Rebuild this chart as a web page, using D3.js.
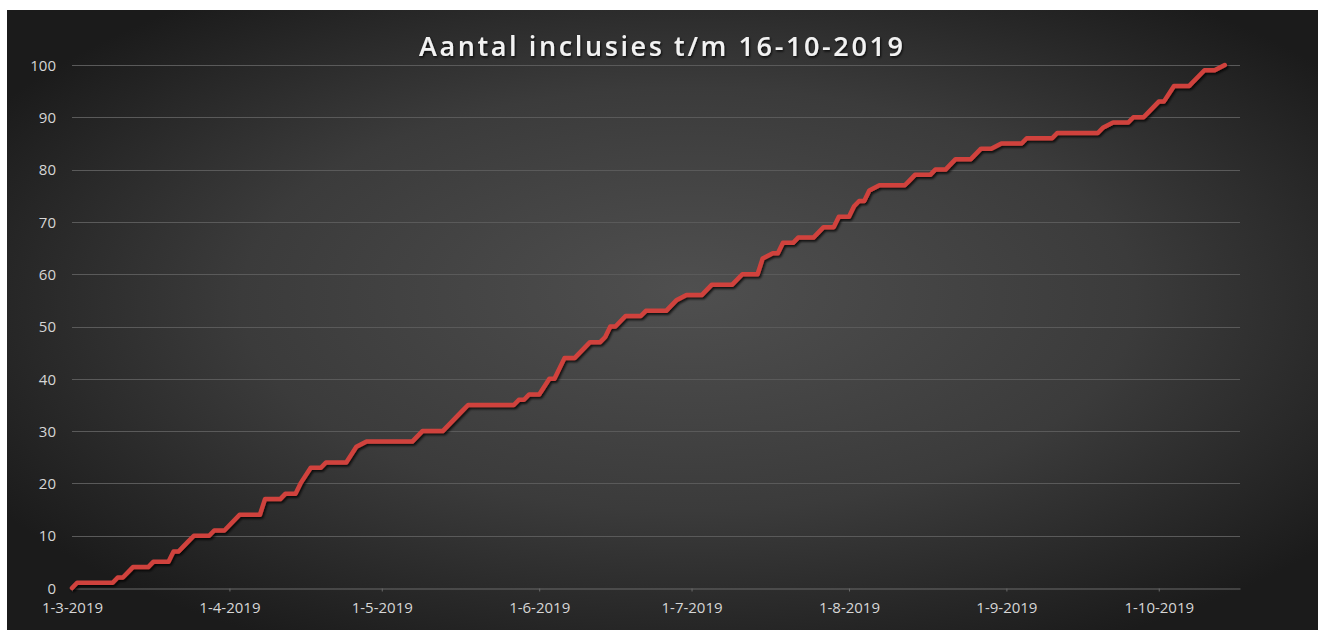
<!DOCTYPE html>
<html>
<head>
<meta charset="utf-8">
<script src="https://cdn.jsdelivr.net/npm/d3@7"></script>
<style>
  html, body { margin: 0; padding: 0; background: #ffffff; }
  svg { display: block; }
</style>
</head>
<body>
<svg id="chart" width="1318" height="630"></svg>
<script>
// ---- data (vertices of the cumulative line) ----
const dates = [
  "2019-03-01","2019-03-02","2019-03-09","2019-03-10","2019-03-11","2019-03-13","2019-03-16","2019-03-17",
  "2019-03-20","2019-03-21","2019-03-22","2019-03-24","2019-03-25","2019-03-28","2019-03-29","2019-03-31",
  "2019-04-01","2019-04-03","2019-04-07","2019-04-08","2019-04-11","2019-04-12","2019-04-14","2019-04-15",
  "2019-04-17","2019-04-19","2019-04-20","2019-04-24","2019-04-26","2019-04-28","2019-05-07","2019-05-09",
  "2019-05-13","2019-05-16","2019-05-17","2019-05-18","2019-05-27","2019-05-28","2019-05-29","2019-05-30",
  "2019-06-01","2019-06-03","2019-06-04","2019-06-06","2019-06-08","2019-06-10","2019-06-11","2019-06-13",
  "2019-06-14","2019-06-15","2019-06-16","2019-06-18","2019-06-21","2019-06-22","2019-06-26","2019-06-28",
  "2019-06-30","2019-07-03","2019-07-05","2019-07-09","2019-07-11","2019-07-14","2019-07-15","2019-07-17",
  "2019-07-18","2019-07-19","2019-07-21","2019-07-22","2019-07-25","2019-07-27","2019-07-29","2019-07-30",
  "2019-08-01","2019-08-02","2019-08-03","2019-08-04","2019-08-05","2019-08-07","2019-08-12","2019-08-13",
  "2019-08-14","2019-08-17","2019-08-18","2019-08-20","2019-08-21","2019-08-22","2019-08-25","2019-08-27",
  "2019-08-29","2019-08-31","2019-09-04","2019-09-05","2019-09-10","2019-09-11","2019-09-19","2019-09-20",
  "2019-09-22","2019-09-25","2019-09-26","2019-09-28","2019-09-29","2019-10-01","2019-10-02","2019-10-04",
  "2019-10-07","2019-10-10","2019-10-12","2019-10-14"
];
const inclusies = [
  0,1,1,2,2,4,4,5,
  5,7,7,9,10,10,11,11,
  12,14,14,17,17,18,18,20,
  23,23,24,24,27,28,28,30,
  30,33,34,35,35,36,36,37,
  37,40,40,44,44,46,47,47,
  48,50,50,52,52,53,53,55,
  56,56,58,58,60,60,63,64,
  64,66,66,67,67,69,69,71,
  71,73,74,74,76,77,77,78,
  79,79,80,80,81,82,82,84,
  84,85,85,86,86,87,87,88,
  89,89,90,90,91,93,93,96,
  96,99,99,100
];
const xTickDates = ["2019-03-01","2019-04-01","2019-05-01","2019-06-01","2019-07-01","2019-08-01","2019-09-01","2019-10-01"];
const yTicks = [0,10,20,30,40,50,60,70,80,90,100];
const xDomain = ["2019-03-01","2019-10-17"];
const title = "Aantal inclusies t/m 16-10-2019";

// ---- drawing ----
const parse = d3.timeParse("%Y-%m-%d");
const fmt = d3.timeFormat("%-d-%-m-%Y");
const svg = d3.select("#chart");
const W = 1318, H = 630;

const defs = svg.append("defs");
const rg = defs.append("radialGradient").attr("id", "bg")
  .attr("cx", "52%").attr("cy", "48%").attr("r", "62%")
  .attr("fx", "52%").attr("fy", "45%");
rg.append("stop").attr("offset", "0%").attr("stop-color", "#4f4f4f");
rg.append("stop").attr("offset", "55%").attr("stop-color", "#3b3b3b");
rg.append("stop").attr("offset", "100%").attr("stop-color", "#1b1b1b");

const sh = defs.append("filter").attr("id", "shadow")
  .attr("x", "-5%").attr("y", "-5%").attr("width", "110%").attr("height", "110%");
sh.append("feDropShadow").attr("dx", 1.5).attr("dy", 2).attr("stdDeviation", 1.2)
  .attr("flood-color", "#000").attr("flood-opacity", 0.75);

const tsh = defs.append("filter").attr("id", "tshadow");
tsh.append("feDropShadow").attr("dx", 1).attr("dy", 1.5).attr("stdDeviation", 1)
  .attr("flood-color", "#000").attr("flood-opacity", 0.8);

svg.append("rect").attr("x", 7).attr("y", 10).attr("width", W - 7).attr("height", H - 10)
  .attr("fill", "url(#bg)");

const x = d3.scaleTime().domain(xDomain.map(parse)).range([72, 1240]);
const y = d3.scaleLinear().domain([0, 100]).range([588, 65]);

// gridlines
svg.append("g").selectAll("line").data(yTicks.filter(d => d > 0)).join("line")
  .attr("x1", x.range()[0]).attr("x2", x.range()[1])
  .attr("y1", d => Math.round(y(d)) + 0.5).attr("y2", d => Math.round(y(d)) + 0.5)
  .attr("stroke", "#5a5a5a").attr("stroke-width", 1);

// y axis labels
const yAxis = d3.axisLeft(y).tickValues(yTicks).tickSize(0).tickPadding(0);
const gy = svg.append("g").attr("transform", "translate(56,0)").call(yAxis);
gy.select(".domain").remove();
gy.selectAll("text").attr("fill", "#d6d6d6").attr("font-family", "'Open Sans', sans-serif")
  .attr("font-size", 15).attr("dy", "0.35em");

// x axis
const xAxis = d3.axisBottom(x).tickValues(xTickDates.map(parse)).tickFormat(fmt)
  .tickSize(3).tickSizeOuter(0).tickPadding(11);
const gx = svg.append("g").attr("transform", `translate(0,${Math.round(y(0)) + 0.5})`).call(xAxis);
gx.select(".domain").attr("stroke", "#6a6a6a");
gx.selectAll(".tick line").attr("stroke", "#6a6a6a");
gx.selectAll("text").attr("fill", "#d6d6d6").attr("font-family", "'Open Sans', sans-serif")
  .attr("font-size", 15);

// line
const pts = dates.map((d, i) => [parse(d), inclusies[i]]);
const line = d3.line().x(d => x(d[0])).y(d => y(d[1]));
svg.append("path").datum(pts).attr("d", line)
  .attr("fill", "none").attr("stroke", "#d0433e").attr("stroke-width", 4.5)
  .attr("stroke-linejoin", "round").attr("stroke-linecap", "round")
  .attr("filter", "url(#shadow)");

// title
const t = svg.append("text").attr("x", 661).attr("y", 56).attr("text-anchor", "middle")
  .attr("fill", "#f2f2f2").attr("font-family", "'Open Sans', sans-serif")
  .attr("font-weight", 600).attr("font-size", 27)
  .attr("filter", "url(#tshadow)")
  .text(title);
t.attr("textLength", 484).attr("lengthAdjust", "spacing");
</script>
</body>
</html>
